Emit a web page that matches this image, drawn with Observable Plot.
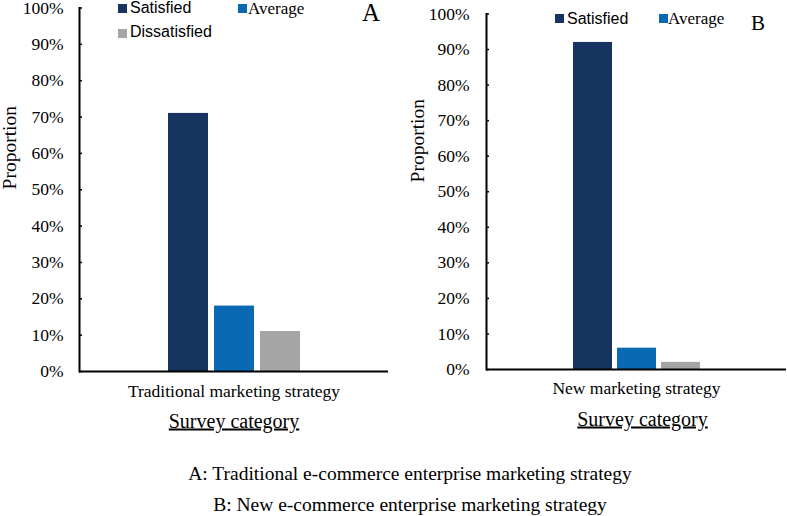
<!DOCTYPE html>
<html>
<head>
<meta charset="utf-8">
<script src="https://cdn.jsdelivr.net/npm/d3@7"></script>
<script src="https://cdn.jsdelivr.net/npm/@observablehq/plot@0.6"></script>
<style>
  body { margin: 0; background: #fff; }
  #wrap { position: relative; width: 787px; height: 516px; overflow: hidden; background: #fff; }
  #wrap svg { position: absolute; top: 0; }
  .lab { position: absolute; line-height: 0.9; white-space: nowrap; color: #000; }
  .serif { font-family: "Liberation Serif", "Times New Roman", serif; }
  .sans { font-family: "Liberation Sans", Arial, sans-serif; }
  .sw { position: absolute; width: 9px; height: 9px; }
</style>
</head>
<body>
<div id="wrap"></div>
<script>
// ---- data ----
const categories = ["Traditional marketing strategy", "New marketing strategy"];
const series = ["Satisfied", "Average", "Dissatisfied"];
const valuesA = [0.71, 0.18, 0.11];
const valuesB = [0.92, 0.06, 0.02];
const yTicks = [0, 0.1, 0.2, 0.3, 0.4, 0.5, 0.6, 0.7, 0.8, 0.9, 1.0];
const colors = ["#17335f", "#0a69b3", "#a5a5a5"];
const yLabel = "Proportion";
const xLabel = "Survey category";
const panelLetters = ["A", "B"];
const captions = [
  "A: Traditional e-commerce enterprise marketing strategy",
  "B: New e-commerce enterprise marketing strategy"
];

const wrap = document.getElementById("wrap");

function makePanel(category, values, cfg) {
  const data = series.map((s, i) => ({category, series: s, value: values[i]}));
  const svg = Plot.plot({
    width: cfg.width, height: 440,
    marginLeft: cfg.ml, marginRight: cfg.mr, marginTop: cfg.mt, marginBottom: 440 - cfg.y0,
    style: {fontFamily: "Liberation Serif, Times New Roman, serif", fontSize: "17.5px", color: "#000", background: "transparent", overflow: "visible"},
    fx: {domain: [category], padding: 0},
    x: {domain: series, paddingInner: cfg.pi, paddingOuter: cfg.po, axis: null},
    y: {domain: [0, 1], axis: null},
    color: {domain: series, range: colors},
    marks: [
      Plot.barY(data, {fx: "category", x: "series", y: "value", fill: "series"}),
      Plot.ruleY([0], {stroke: "#000", strokeWidth: 2}),
      Plot.frame({anchor: "left", stroke: "#000", strokeWidth: 2}),
      Plot.axisY({ticks: yTicks, tickSize: 3, dx: 3, fill: "none", label: null, strokeWidth: 1.5}),
      Plot.axisY({ticks: yTicks, tickSize: 0, tickPadding: cfg.tp, tickFormat: d3.format(".0%"), label: null, fontSize: 17.5}),
      Plot.axisFx({anchor: "bottom", tickSize: 0, tickPadding: cfg.fxp, label: null, fontSize: 17.5}),
      Plot.text([xLabel], {text: d => d, frameAnchor: "bottom", dy: cfg.xly, dx: cfg.xlx, fontSize: 20}),
      Plot.text([yLabel], {text: d => d, frameAnchor: "left", textAnchor: "middle", rotate: -90, dx: cfg.ylx, dy: cfg.yly, fontSize: 19.5})
    ]
  });
  svg.style.left = cfg.left + "px";
  d3.select(svg).selectAll("text").filter(function() { return this.textContent === xLabel; })
    .style("text-decoration", "underline");
  wrap.appendChild(svg);
}

makePanel(categories[0], valuesA, {left: 0, width: 400, ml: 79, mr: 12, mt: 7.5, y0: 371, pi: 0.14, po: 1.89, tp: 16, fxp: 13, xly: 56, xlx: 0, ylx: -70, yly: -42});
makePanel(categories[1], valuesB, {left: 400, width: 387, ml: 86, mr: 1, mt: 13.5, y0: 369, pi: 0.124, po: 1.93, tp: 17, fxp: 12.5, xly: 56, xlx: 6, ylx: -68.5, yly: -51});

function addLab(text, cls, size, left, baseline, extraStyle) {
  const d = document.createElement("div");
  d.className = "lab " + cls;
  d.textContent = text;
  const asc = cls === "sans" ? 0.7965 : 0.7875;
  d.style.fontSize = size + "px";
  d.style.left = left + "px";
  d.style.top = (baseline - asc * size) + "px";
  if (extraStyle) Object.assign(d.style, extraStyle);
  wrap.appendChild(d);
}
function addSwatch(color, left, top) {
  const d = document.createElement("div");
  d.className = "sw";
  d.style.background = color;
  d.style.left = left + "px";
  d.style.top = top + "px";
  wrap.appendChild(d);
}

// legend A
addSwatch(colors[0], 118, 4);
addLab(series[0], "sans", 16, 130, 13.3);
addSwatch(colors[1], 237.5, 4);
addLab(series[1], "serif", 17, 248, 13.9);
addSwatch(colors[2], 118, 28.5);
addLab(series[2], "sans", 16, 130, 38);
addLab(panelLetters[0], "serif", 25, 362, 21.6);

// legend B
addSwatch(colors[0], 554.5, 14.3);
addLab(series[0], "sans", 16, 567, 24.5);
addSwatch(colors[1], 659, 14.3);
addLab(series[1], "serif", 17, 668, 24.5);
addLab(panelLetters[1], "serif", 21, 751, 30.7);

// captions
addLab(captions[0], "serif", 19.5, 410, 480, {transform: "translateX(-50%)"});
addLab(captions[1], "serif", 19.5, 410, 511, {transform: "translateX(-50%)"});
</script>
</body>
</html>
